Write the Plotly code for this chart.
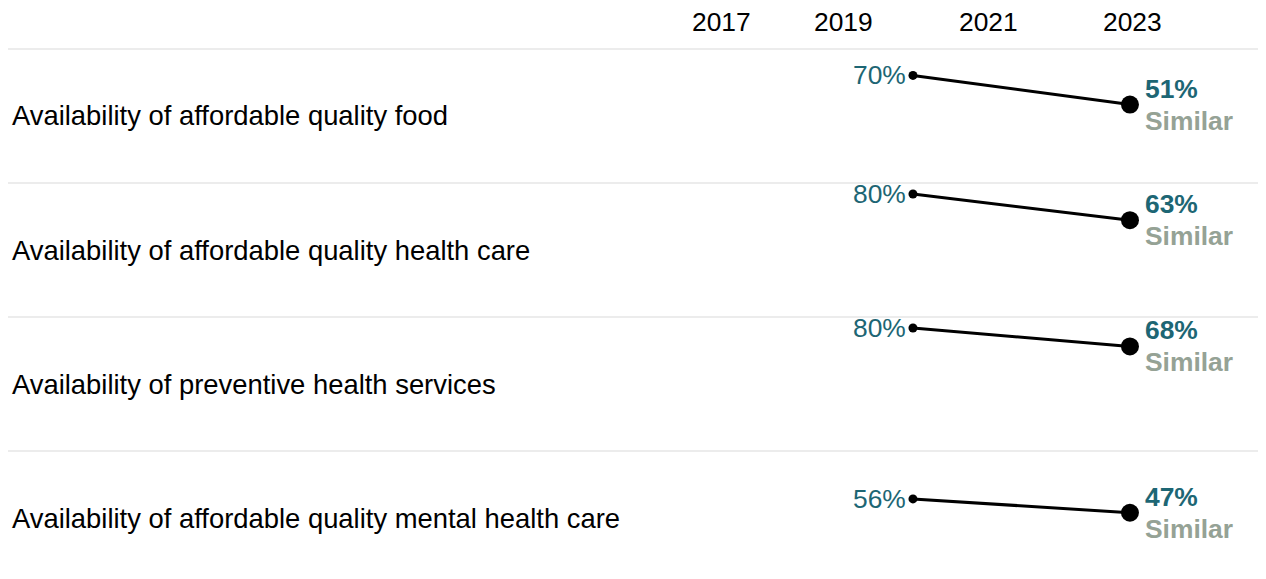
import plotly.graph_objects as go

categories = [
    "Availability of affordable quality food",
    "Availability of affordable quality health care",
    "Availability of preventive health services",
    "Availability of affordable quality mental health care",
]
years = [2020, 2023]
values_start = [70, 80, 80, 56]
values_end = [51, 63, 68, 47]
status = ["Similar", "Similar", "Similar", "Similar"]
tick_years = [2017, 2019, 2021, 2023]

TEAL = "#1d6674"
GRAY = "#95a295"
FONT = "Arial, Liberation Sans, sans-serif"

# the page body adds an 8px margin, so the figure is sized to fill the rest
W, H = 1258, 571
TOP = 41
ROW_H = 134
PX_PER_UNIT = 1.537
plot_h = H - TOP

fig = go.Figure()
n = len(categories)
shapes = []
annotations = []
for i in range(n):
    top_px = i * ROW_H
    bot_px = min((i + 1) * ROW_H, plot_h)
    d1 = 1 - top_px / plot_h
    d0 = 1 - bot_px / plot_h
    h_px = bot_px - top_px
    ymax = ROW_H / PX_PER_UNIT
    ymin = ymax - h_px / PX_PER_UNIT
    ax = "" if i == 0 else str(i + 1)
    fig.add_trace(go.Scatter(
        x=years, y=[values_start[i], values_end[i]],
        mode="lines+markers",
        line=dict(color="black", width=3),
        marker=dict(color="black", size=[9, 18], opacity=1, line=dict(width=0)),
        xaxis="x" + ax, yaxis="y" + ax,
        hoverinfo="skip", showlegend=False,
    ))
    fig.update_layout(**{
        "yaxis" + ax: dict(domain=[d0, d1], range=[ymin, ymax], visible=False, fixedrange=True),
        "xaxis" + ax: dict(range=[2007.488, 2024.881], visible=False, anchor="y" + ax,
                           matches=None if i == 0 else "x", fixedrange=True),
    })
    shapes.append(dict(type="line", xref="paper", x0=0, x1=1,
                       yref="y%s domain" % ax, y0=1, y1=1,
                       line=dict(color="#d9d9d9", width=1)))
    annotations.append(dict(text=categories[i], xref="paper", x=2 / W, xanchor="left",
                            yref="y%s domain" % ax, y=1 - 67 / h_px, yanchor="middle",
                            showarrow=False, font=dict(family=FONT, size=27.4, color="black")))
    annotations.append(dict(text=f"{values_start[i]}%", xref="x" + ax, yref="y" + ax,
                            x=years[0], y=values_start[i], xanchor="right", yanchor="middle",
                            xshift=-5, showarrow=False,
                            font=dict(family=FONT, size=26.4, color=TEAL)))
    annotations.append(dict(text=f"<b>{values_end[i]}%</b>", xref="x" + ax, yref="y" + ax,
                            x=years[1], y=values_end[i], xanchor="left", yanchor="middle",
                            xshift=13, yshift=16, showarrow=False,
                            font=dict(family=FONT, size=26.4, color=TEAL)))
    annotations.append(dict(text=f"<b>{status[i]}</b>", xref="x" + ax, yref="y" + ax,
                            x=years[1], y=values_end[i], xanchor="left", yanchor="middle",
                            xshift=13, yshift=-16, showarrow=False,
                            font=dict(family=FONT, size=26.4, color=GRAY)))

for j, yr in enumerate(tick_years):
    annotations.append(dict(text=str(yr), xref="x", x=yr, yref="paper", y=1,
                            yanchor="bottom", yshift=10,
                            xanchor="left" if j == 0 else "center",
                            xshift=-6 if j == 0 else 3,
                            showarrow=False, font=dict(family=FONT, size=26.4, color="black")))

fig.update_layout(
    width=W, height=H,
    margin=dict(l=0, r=0, t=TOP, b=0),
    paper_bgcolor="white", plot_bgcolor="white",
    shapes=shapes, annotations=annotations,
    showlegend=False,
)

fig.write_html("out.html", config={"displayModeBar": False})
